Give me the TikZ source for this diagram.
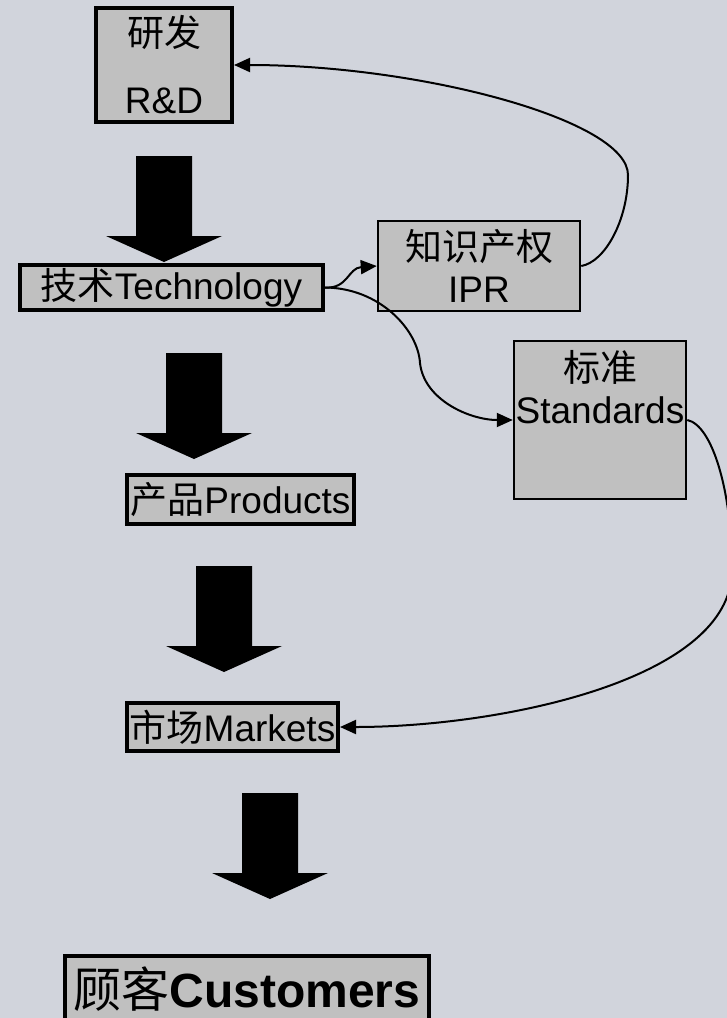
\documentclass[tikz,border=0pt]{standalone}
\usepackage{fontspec}
\setmainfont{Liberation Sans}
\newfontfamily\cjk{Noto Sans CJK SC}
\usetikzlibrary{arrows.meta}

\definecolor{pagebg}{RGB}{209,212,220}
\definecolor{boxgray}{RGB}{192,192,192}

\newcommand\mainsize{\fontsize{37}{42}\selectfont}
\newcommand\custsize{\fontsize{48}{54}\selectfont}

\tikzset{
  box/.style={draw=black, fill=boxgray, line width=4pt, inner sep=0pt, font=\mainsize},
  thinbox/.style={box, line width=2.5pt},
  plaintext/.style={inner sep=0pt, font=\mainsize, align=center},
  link/.style={draw=black, line width=2pt, -{Triangle[length=16pt,width=14pt]}},
  pics/bigarrow/.style={code={
    \fill[black] (-28,0) -- (28,0) -- (28,80) -- (58,80) -- (0,106)
                 -- (-58,80) -- (-28,80) -- cycle;
  }}
}

\begin{document}
\begin{tikzpicture}[x=1pt, y=-1pt]
  % canvas
  \fill[pagebg] (0,0) rectangle (727,1018);
  \useasboundingbox (0,0) rectangle (727,1018);
  \clip (0,0) rectangle (727,1018);

  % main chain of boxes
  \node[box, minimum width=136pt, minimum height=114pt, align=center]
       (rd) at (164,65) {{\cjk 研发}\\[25pt]R\&D};
  \node[box, minimum width=303pt, minimum height=45pt]
       (tech) at (171.5,287.5) {{\cjk 技术}Technology};
  \node[box, minimum width=227pt, minimum height=49pt]
       (prod) at (240.5,499.5) {{\cjk 产品}Products};
  \node[box, minimum width=211pt, minimum height=48pt]
       (mkt) at (232.5,727) {{\cjk 市场}Markets};
  \node[box, minimum width=364pt, minimum height=66pt, font=\custsize]
       (cust) at (247,989) {{\cjk 顾客}\textbf{Customers}};

  % side boxes
  \node[thinbox, minimum width=202pt, minimum height=90pt, align=center]
       (ipr) at (479,266) {{\cjk 知识产权}\\IPR};
  \node[thinbox, minimum width=172pt, minimum height=158pt]
       (std) at (600,420) {};
  \node[plaintext] (stdtext) at (600,387) {{\cjk 标准}\\Standards};

  % block arrows down the chain
  \pic at (164,156) {bigarrow};
  \pic at (194,353) {bigarrow};
  \pic at (224,566) {bigarrow};
  \pic at (270,793) {bigarrow};

  % connectors
  \draw[link] (tech.east) .. controls (348,289) and (348,268) .. (ipr.west);
  \draw[link] (ipr.east) .. controls (605,262) and (628,220) .. (628,175)
              .. controls (628,120) and (420,65) .. (rd.east);
  \draw[link] (tech.east) .. controls (380,288) and (418,330) .. (420,363)
              .. controls (424,400) and (470,420) .. (std.west);
  \draw[link] (std.east) .. controls (712,425) and (732,490) .. (732,570)
              .. controls (732,680) and (500,727) .. (mkt.east);
\end{tikzpicture}
\end{document}
